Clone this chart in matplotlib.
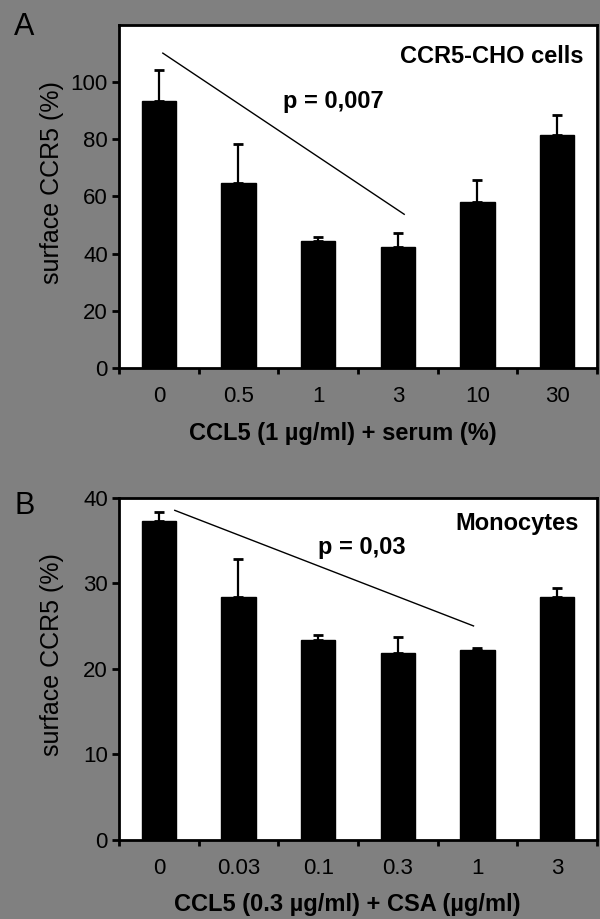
import matplotlib
matplotlib.use("Agg")
import matplotlib.pyplot as plt
import numpy as np

plt.rcParams['font.family'] = ['Liberation Sans', 'DejaVu Sans']

# ---- data ----
cats_a = ["0", "0.5", "1", "3", "10", "30"]
vals_a = [93.2, 64.8, 44.2, 42.4, 58.0, 81.4]
err_a = [10.9, 13.5, 1.6, 4.6, 7.7, 6.9]
yticks_a = [0, 20, 40, 60, 80, 100]
trend_a_x = [0.05, 3.08]
trend_a_y = [110.0, 53.7]

cats_b = ["0", "0.03", "0.1", "0.3", "1", "3"]
vals_b = [37.2, 28.35, 23.3, 21.85, 22.2, 28.4]
err_b = [1.1, 4.5, 0.7, 1.85, 0.2, 1.0]
yticks_b = [0, 10, 20, 30, 40]
trend_b_x = [0.2, 3.95]
trend_b_y = [38.5, 25.0]

BG = "#808080"

fig = plt.figure(figsize=(6.0, 9.19), dpi=100, facecolor=BG)

def panel(rect, cats, vals, errs, yticks, ylim, trend_x, trend_y,
          ptext, ppos, ctext, cpos, xlabel, xlab_coords, letter, letter_pos):
    ax = fig.add_axes(rect)
    ax.set_facecolor("white")
    x = np.arange(len(cats))
    ax.bar(x, vals, width=0.43, color="black", edgecolor="black", zorder=2)
    ax.errorbar(x, vals, yerr=[np.zeros(len(errs)), errs], fmt="none",
                ecolor="black", elinewidth=1.6, capsize=3.5, capthick=2.0, zorder=3)
    ax.plot(trend_x, trend_y, color="black", lw=1.0, zorder=4)
    ax.set_xlim(-0.5, 5.5)
    ax.set_ylim(*ylim)
    for s in ax.spines.values():
        s.set_linewidth(2.0)
        s.set_color("black")
    ax.set_xticks(x)
    ax.set_xticklabels(cats)
    ax.set_xticks(np.arange(-0.5, 5.6, 1.0), minor=True)
    ax.tick_params(axis="x", which="major", length=0, pad=13, labelsize=16)
    ax.tick_params(axis="x", which="minor", length=4, width=2, direction="out")
    ax.set_yticks(yticks)
    ax.tick_params(axis="y", which="major", length=5, width=2, direction="out",
                   pad=3, labelsize=16)
    ax.set_ylabel("surface CCR5 (%)", fontsize=18)
    ax.yaxis.set_label_coords(-0.14, 0.54)
    ax.yaxis.label.set_va("center")
    ax.set_xlabel(xlabel, fontsize=17, fontweight="bold")
    ax.xaxis.set_label_coords(*xlab_coords)
    ax.xaxis.label.set_va("center")
    ax.text(ppos[0], ppos[1], ptext, fontsize=17, fontweight="bold",
            ha="left", va="baseline", zorder=5)
    ax.text(cpos[0], cpos[1], ctext, fontsize=17, fontweight="bold",
            ha="right", va="baseline", zorder=5)
    fig.text(letter_pos[0], letter_pos[1], letter, fontsize=22,
             ha="center", va="center")
    return ax

panel([119/600, 1-368/919, 478/600, 343.5/919], cats_a, vals_a, err_a,
      yticks_a, (0, 120), trend_a_x, trend_a_y,
      "p = 0,007", (1.555, 90.9), "CCR5-CHO cells", (5.33, 106.4),
      "CCL5 (1 µg/ml) + serum (%)", (0.468, -0.192), "A", (24.5/600, 1-27/919))

panel([119/600, 1-840/919, 478/600, 342.5/919], cats_b, vals_b, err_b,
      yticks_b, (0, 40), trend_b_x, trend_b_y,
      "p = 0,03", (1.995, 33.4), "Monocytes", (5.27, 36.2),
      "CCL5 (0.3 µg/ml) + CSA (µg/ml)", (0.478, -0.187), "B", (25/600, 1-506/919))

fig.savefig("out.png", dpi=100, facecolor=BG)
